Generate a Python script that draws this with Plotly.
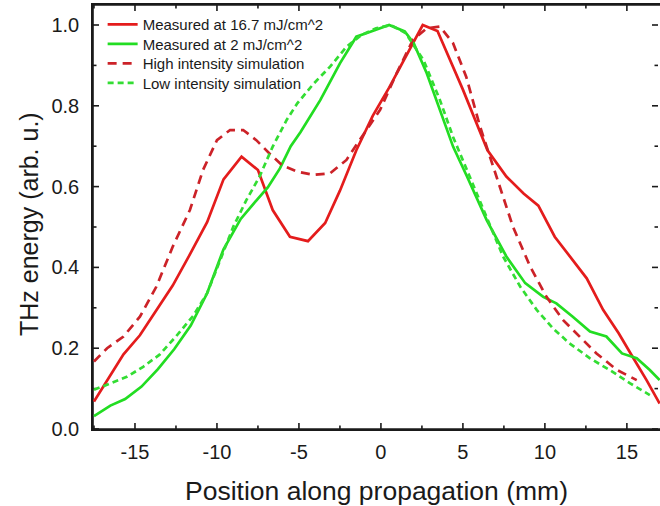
import plotly.graph_objects as go

# ---- data ----
red_meas_x = [-17.5, -16.7, -15.7, -14.7, -13.7, -12.7, -11.65, -10.6, -9.6, -8.5, -7.5, -6.6, -5.55, -4.45,
              -3.4, -2.5, -1.5, -0.5, 0.5, 1.6, 2.55, 3.45, 5.0, 6.5, 7.65, 8.7, 9.6, 10.6, 11.6, 12.55,
              13.55, 14.5, 15.4, 16.2, 17.0]
red_meas_y = [0.068, 0.12, 0.185, 0.232, 0.295, 0.355, 0.432, 0.512, 0.618, 0.674, 0.641, 0.542, 0.476, 0.465,
              0.51, 0.59, 0.69, 0.775, 0.845, 0.93, 1.0, 0.985, 0.84, 0.69, 0.625, 0.583, 0.553, 0.476, 0.422,
              0.373, 0.295, 0.237, 0.175, 0.121, 0.063]

green_meas_x = [-17.5, -16.5, -15.6, -14.6, -13.6, -12.6, -11.6, -10.6, -9.6, -8.55, -7.55, -6.9, -6.16, -5.5,
                -4.9, -3.7, -2.5, -1.5, -0.6, 0.5, 1.45, 2.0, 2.8, 3.6, 4.4, 5.25, 6.45, 7.65, 8.8, 9.9, 10.7,
                11.7, 12.75, 13.75, 14.7, 15.6, 16.4, 17.0]
green_meas_y = [0.032, 0.058, 0.074, 0.105, 0.148, 0.198, 0.256, 0.336, 0.445, 0.52, 0.568, 0.598, 0.645, 0.70,
                0.735, 0.814, 0.905, 0.971, 0.984, 1.0, 0.984, 0.955, 0.88, 0.79, 0.699, 0.625, 0.517, 0.427,
                0.361, 0.327, 0.311, 0.278, 0.241, 0.229, 0.187, 0.175, 0.146, 0.121]

red_sim_x = [-17.5, -16.7, -15.7, -14.7, -13.7, -12.7, -11.65, -10.85, -10.0, -9.2, -8.4, -7.6, -6.8, -6.0,
             -5.1, -4.1, -3.1, -2.1, -1.3, -0.05, 0.95, 1.95, 2.8, 3.6, 4.4, 5.2, 6.05, 7.05, 8.05, 9.1, 10.1,
             11.1, 12.1, 13.15, 14.4, 15.6]
red_sim_y = [0.167, 0.2, 0.229, 0.278, 0.352, 0.451, 0.542, 0.641, 0.715, 0.74, 0.74, 0.715, 0.682, 0.652,
             0.637, 0.629, 0.633, 0.666, 0.715, 0.79, 0.88, 0.963, 0.992, 0.996, 0.955, 0.872, 0.748, 0.625,
             0.501, 0.402, 0.327, 0.27, 0.229, 0.187, 0.146, 0.121]

green_sim_x = [-17.5, -16.5, -15.5, -14.5, -13.5, -12.5, -11.45, -10.6, -9.8, -9.0, -8.2, -7.4, -6.6, -5.75,
               -5.1, -4.1, -3.1, -2.1, -1.2, -0.3, 0.6, 1.5, 2.6, 3.6, 4.4, 5.25, 6.45, 7.45, 8.5, 9.5, 10.5,
               11.5, 12.75, 13.95, 15.2, 16.4]
green_sim_y = [0.097, 0.113, 0.129, 0.154, 0.184, 0.229, 0.28, 0.336, 0.418, 0.501, 0.567, 0.625, 0.699, 0.765,
               0.806, 0.855, 0.897, 0.946, 0.975, 0.992, 1.0, 0.98, 0.913, 0.814, 0.723, 0.641, 0.526, 0.427,
               0.352, 0.295, 0.249, 0.212, 0.175, 0.146, 0.113, 0.084]

series_names = ["Measured at 16.7 mJ/cm^2", "Measured at 2 mJ/cm^2",
                "High intensity simulation", "Low intensity simulation"]

x_tick_vals = [-15, -10, -5, 0, 5, 10, 15]
x_tick_text = ["-15", "-10", "-5", "0", "5", "10", "15"]
x_minor_vals = [-17.5, -12.5, -7.5, -2.5, 2.5, 7.5, 12.5]
y_tick_vals = [0.0, 0.2, 0.4, 0.6, 0.8, 1.0]
y_tick_text = ["0.0", "0.2", "0.4", "0.6", "0.8", "1.0"]
y_minor_vals = [0.1, 0.3, 0.5, 0.7, 0.9]

x_title = "Position along propagation (mm)"
y_title = "THz energy (arb. u.)"

FONT = "Liberation Sans, Arial, sans-serif"
INK = "#1a1a1a"
W, H = 660, 506
ML, MR, MT, MB = 93, 0, 5, 77
PW, PH = W - ML - MR, H - MT - MB

fig = go.Figure()
fig.add_trace(go.Scatter(x=red_meas_x, y=red_meas_y, mode="lines", name=series_names[0], legend="legend",
                         line=dict(color="#e41c1c", width=2.7)))
fig.add_trace(go.Scatter(x=green_meas_x, y=green_meas_y, mode="lines", name=series_names[1], legend="legend2",
                         line=dict(color="#22dd22", width=2.7)))
fig.add_trace(go.Scatter(x=red_sim_x, y=red_sim_y, mode="lines", name=series_names[2], legend="legend3",
                         line=dict(color="#cc2228", width=2.7, dash="9px,6px")))
fig.add_trace(go.Scatter(x=green_sim_x, y=green_sim_y, mode="lines", name=series_names[3], legend="legend4",
                         line=dict(color="#33dd33", width=2.7, dash="6px,4px")))

axis_common = dict(
    showline=True, linecolor=INK, linewidth=1.6, mirror=True, layer="below traces",
    ticks="", showgrid=False, zeroline=False, automargin=False,
    tickfont=dict(family=FONT, size=20, color=INK),
)
fig.update_xaxes(
    range=[-17.56, 17.02], tickvals=x_tick_vals, ticktext=x_tick_text, ticklabelstandoff=4,
    title=dict(text=x_title, font=dict(family=FONT, size=26.5, color=INK), standoff=22),
    **axis_common,
)
fig.update_yaxes(
    range=[0, 1.0495], tickvals=y_tick_vals, ticktext=y_tick_text, ticklabelstandoff=8,
    **axis_common,
)

# frame and tick marks, drawn as line shapes (below the traces) at the axis tick values
shapes = []
line = dict(color=INK, width=1.6)
shapes.append(dict(type="line", xref="paper", yref="paper", x0=0, x1=1, y0=0, y1=0, line=line, layer="below"))
shapes.append(dict(type="line", xref="paper", yref="paper", x0=0, x1=1, y0=1, y1=1, line=line, layer="below"))
shapes.append(dict(type="line", xref="paper", yref="paper", x0=0, x1=0, y0=0, y1=1, line=line, layer="below"))
maj, mnr = 6.0, 3.5
for vals, ln in ((x_tick_vals, maj), (x_minor_vals, mnr)):
    for v in vals:
        shapes.append(dict(type="line", xref="x", yref="paper", x0=v, x1=v, y0=0, y1=ln / PH, line=line, layer="below"))
        shapes.append(dict(type="line", xref="x", yref="paper", x0=v, x1=v, y0=1, y1=1 - ln / PH, line=line, layer="below"))
for vals, ln in ((y_tick_vals, maj), (y_minor_vals, mnr)):
    for v in vals:
        shapes.append(dict(type="line", xref="paper", yref="y", x0=0, x1=ln / PW, y0=v, y1=v, line=line, layer="below"))
        shapes.append(dict(type="line", xref="paper", yref="y", x0=1 - 2 / PW, x1=1 - (ln + 2) / PW, y0=v, y1=v,
                           line=line, layer="below"))

annotations = [dict(text=y_title, textangle=-90, xref="paper", yref="paper",
                    x=-(ML - 29) / PW, y=1 - (224 - MT) / PH, xanchor="center", yanchor="middle",
                    showarrow=False, font=dict(family=FONT, size=25, color=INK))]

leg_common = dict(x=0.017, xanchor="left", yanchor="middle", bgcolor="rgba(0,0,0,0)", borderwidth=0,
                  font=dict(family=FONT, size=15, color=INK))
fig.update_layout(
    width=W, height=H,
    margin=dict(l=ML, r=MR, t=MT, b=MB),
    paper_bgcolor="white", plot_bgcolor="rgba(0,0,0,0)",
    shapes=shapes, annotations=annotations,
    showlegend=True,
    legend=dict(y=0.9538, **leg_common),
    legend2=dict(y=0.9078, **leg_common),
    legend3=dict(y=0.8618, **leg_common),
    legend4=dict(y=0.8158, **leg_common),
)

fig.write_html("out.html", config={"displayModeBar": False},
               post_script="document.body.style.margin='0';")
